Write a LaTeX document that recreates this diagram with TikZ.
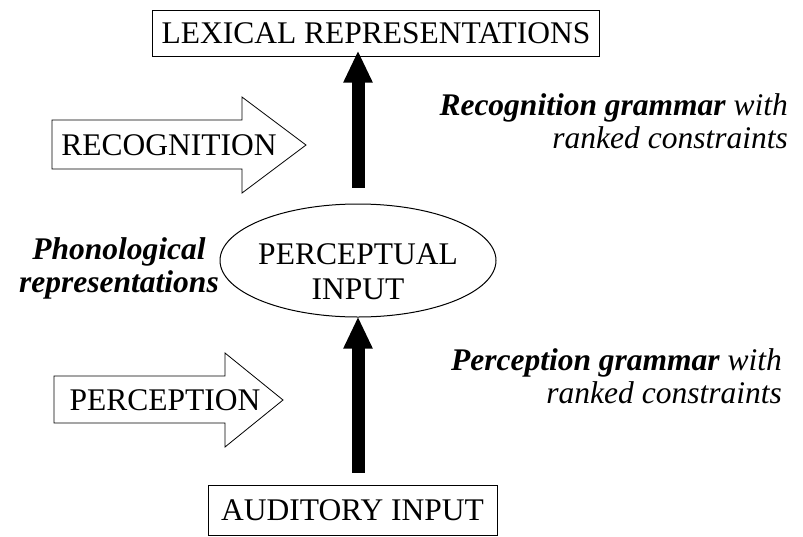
\documentclass[tikz,border=0pt]{standalone}
\usepackage{fontspec}
\setmainfont{Liberation Serif}
\usetikzlibrary{arrows.meta,shapes.geometric}
\begin{document}
\begin{tikzpicture}[x=1pt,y=-1pt,
  every node/.style={font=\fontsize{31.5}{35}\selectfont},
  plainbox/.style={draw,line width=1pt,inner sep=0pt},
  bigarrow/.style={line width=13pt,-{Triangle[length=32pt,width=27pt]}},
  blockarrow/.style={draw,line width=0.8pt,fill=white},
  gramlabel/.style={align=right,anchor=east,inner sep=0pt,font=\fontsize{31.5}{33}\selectfont\itshape}]
\useasboundingbox (0,0) rectangle (803,536);


\node[plainbox,minimum width=447pt,minimum height=46pt] (lex) at (376,33) {LEXICAL REPRESENTATIONS};
\node[draw,ellipse,line width=1pt,minimum width=276pt,minimum height=113pt,inner sep=0pt] (perc) at (358,260.5) {};
\node[align=center,inner sep=0pt] (perctext) at (358,272) {PERCEPTUAL\\INPUT};
\node[plainbox,minimum width=289pt,minimum height=50pt] (aud) at (352.5,510) {AUDITORY INPUT};



\draw[bigarrow,shorten <=16pt,shorten >=-6pt] (perc.north) -- (perc.north |- lex.south);
\draw[bigarrow,shorten <=12pt,shorten >=-1pt] (aud.north -| perc.south) -- (perc.south);



\draw[blockarrow] (52,120) -- (242,120) -- (242,97) -- (306,145) -- (242,193) -- (242,169) -- (52,169) -- cycle;
\node (recog) at (169,145) {RECOGNITION};

\draw[blockarrow] (54,376) -- (225,376) -- (225,353) -- (283,400) -- (225,447) -- (225,423) -- (54,423) -- cycle;
\node (percep) at (165,400) {PERCEPTION};



\node[gramlabel] (recgram) at (788,121) {\textbf{Recognition grammar} with\\ranked constraints};
\node[gramlabel] (pergram) at (782,376) {\textbf{Perception grammar} with\\ranked constraints};
\node[align=center,font=\fontsize{31.5}{33}\selectfont\bfseries\itshape] (phon) at (119,268) {Phonological\\representations};

\end{tikzpicture}
\end{document}
